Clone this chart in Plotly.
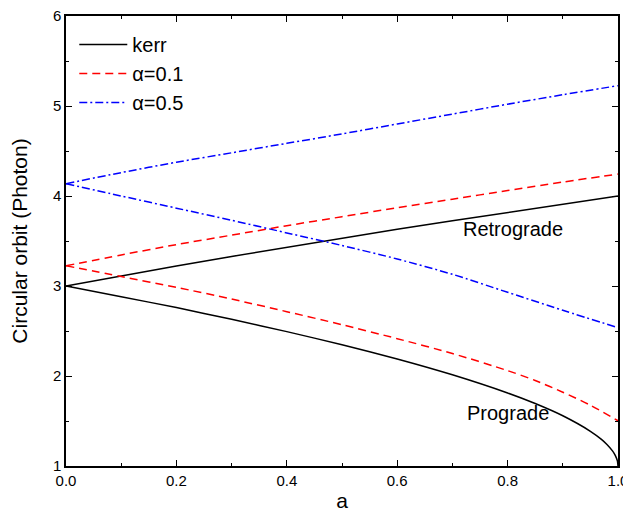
import plotly.graph_objects as go

# ---- data ----
a_grid = [0.0, 0.1, 0.2, 0.3, 0.4, 0.5, 0.6, 0.7, 0.8, 0.9, 1.0]

kerr_retro = [3.0, 3.114, 3.222, 3.329, 3.432, 3.532, 3.630, 3.725, 3.819, 3.910, 4.0]

a_kerr_pro = [0.0, 0.1, 0.2, 0.3, 0.4, 0.5, 0.6, 0.7, 0.8, 0.85, 0.9, 0.95,
              0.97, 0.98, 0.99, 0.995, 0.999, 1.0]
kerr_pro = [3.0, 2.881, 2.760, 2.630, 2.493, 2.347, 2.189, 2.013, 1.811, 1.694,
            1.558, 1.386, 1.296, 1.239, 1.168, 1.118, 1.054, 1.0]

a01_retro = [3.225, 3.345, 3.460, 3.565, 3.670, 3.770, 3.870, 3.965, 4.060, 4.155, 4.244]

a_a01_pro = [0.0, 0.1, 0.2, 0.3, 0.4, 0.5, 0.6, 0.7, 0.8, 0.85, 0.9, 0.95, 1.0]
a01_pro = [3.225, 3.105, 2.985, 2.855, 2.715, 2.570, 2.415, 2.250, 2.060, 1.950,
           1.820, 1.675, 1.503]

a05_retro = [4.137, 4.260, 4.375, 4.480, 4.585, 4.690, 4.800, 4.910, 5.020, 5.125, 5.226]
a05_pro = [4.137, 4.000, 3.865, 3.730, 3.590, 3.450, 3.300, 3.130, 2.930, 2.730, 2.537]

x_ticks = [0.0, 0.2, 0.4, 0.6, 0.8, 1.0]
y_ticks = [1, 2, 3, 4, 5, 6]

FONT = "Arial, Liberation Sans, sans-serif"
LW = 1.5

fig = go.Figure()

# kerr
fig.add_trace(go.Scatter(x=a_grid, y=kerr_retro, mode="lines", name="kerr",
                         line=dict(color="black", width=LW)))
fig.add_trace(go.Scatter(x=a_kerr_pro, y=kerr_pro, mode="lines", name="kerr",
                         showlegend=False,
                         line=dict(color="black", width=LW, shape="spline", smoothing=0.6)))
# alpha = 0.1
fig.add_trace(go.Scatter(x=a_grid, y=a01_retro, mode="lines", name="α=0.1",
                         line=dict(color="red", width=LW, dash="8px,5px",
                                   shape="spline", smoothing=0.8)))
fig.add_trace(go.Scatter(x=a_a01_pro, y=a01_pro, mode="lines", name="α=0.1",
                         showlegend=False,
                         line=dict(color="red", width=LW, dash="8px,5px",
                                   shape="spline", smoothing=0.8)))
# alpha = 0.5
fig.add_trace(go.Scatter(x=a_grid, y=a05_retro, mode="lines", name="α=0.5",
                         line=dict(color="blue", width=LW, dash="8px,3px,2px,3px",
                                   shape="spline", smoothing=0.8)))
fig.add_trace(go.Scatter(x=a_grid, y=a05_pro, mode="lines", name="α=0.5",
                         showlegend=False,
                         line=dict(color="blue", width=LW, dash="8px,3px,2px,3px",
                                   shape="spline", smoothing=0.8)))

fig.add_annotation(x=0.81, y=3.63, text="Retrograde", showarrow=False,
                   font=dict(family=FONT, size=20, color="black"))
fig.add_annotation(x=0.80, y=1.59, text="Prograde", showarrow=False,
                   font=dict(family=FONT, size=20, color="black"))

axis_common = dict(showline=True, linecolor="black", linewidth=1.5, mirror="allticks",
                   ticks="inside", ticklen=6, tickwidth=1.2, tickcolor="black",
                   showgrid=False, zeroline=False, automargin=False,
                   ticklabeloverflow="allow",
                   tickfont=dict(family=FONT, size=15, color="black"))

fig.update_xaxes(range=[0, 1], tickvals=x_ticks,
                 ticktext=[f"{v:.1f}" for v in x_ticks],
                 minor=dict(ticks="inside", dtick=0.1, tick0=0, ticklen=3.5,
                            tickcolor="black", tickwidth=1.2),
                 title=dict(text="a", font=dict(family=FONT, size=21, color="black"),
                            standoff=6),
                 **axis_common)
fig.update_yaxes(range=[1, 6], tickvals=y_ticks,
                 minor=dict(ticks="inside", dtick=0.5, tick0=1, ticklen=3.5,
                            tickcolor="black", tickwidth=1.2),
                 title=dict(text="Circular orbit (Photon)",
                            font=dict(family=FONT, size=21, color="black"),
                            standoff=22),
                 **axis_common)

# the page body adds an 8px offset, so the figure is sized to fit inside the window
fig.update_layout(
    width=623, height=512,
    margin=dict(l=58, r=13, t=8, b=54),
    paper_bgcolor="white", plot_bgcolor="white",
    font=dict(family=FONT, color="black"),
    showlegend=True,
    legend=dict(x=0.015, y=0.98, xanchor="left", yanchor="top",
                bgcolor="rgba(0,0,0,0)", borderwidth=0,
                font=dict(family=FONT, size=20, color="black"),
                tracegroupgap=2, itemwidth=48),
)

fig.write_html("out.html")
